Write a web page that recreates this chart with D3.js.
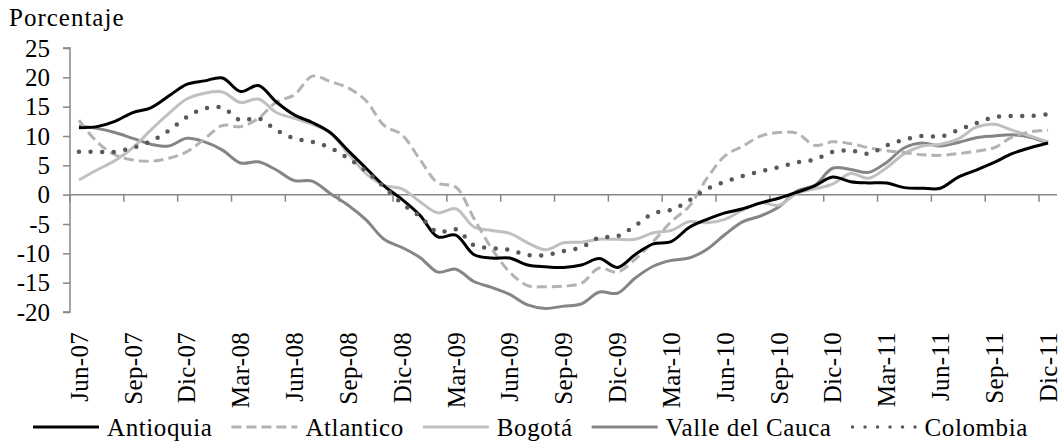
<!DOCTYPE html>
<html>
<head>
<meta charset="utf-8">
<title>Porcentaje</title>
<script src="https://d3js.org/d3.v7.min.js"></script>
<style>
  body { margin: 0; background: #fff; }
  svg text { font-family: "Liberation Serif", "Times New Roman", serif; fill: #000; }
</style>
</head>
<body>
<svg id="chart" width="1064" height="444"></svg>
<script>
// data (monthly, Jun-07 .. Dic-11)
var months = ["Jun-07","Jul-07","Ago-07","Sep-07","Oct-07","Nov-07","Dic-07",
  "Ene-08","Feb-08","Mar-08","Abr-08","May-08","Jun-08","Jul-08","Ago-08","Sep-08","Oct-08","Nov-08","Dic-08",
  "Ene-09","Feb-09","Mar-09","Abr-09","May-09","Jun-09","Jul-09","Ago-09","Sep-09","Oct-09","Nov-09","Dic-09",
  "Ene-10","Feb-10","Mar-10","Abr-10","May-10","Jun-10","Jul-10","Ago-10","Sep-10","Oct-10","Nov-10","Dic-10",
  "Ene-11","Feb-11","Mar-11","Abr-11","May-11","Jun-11","Jul-11","Ago-11","Sep-11","Oct-11","Nov-11","Dic-11"];

var tickLabels = ["Jun-07","Sep-07","Dic-07","Mar-08","Jun-08","Sep-08","Dic-08","Mar-09","Jun-09",
  "Sep-09","Dic-09","Mar-10","Jun-10","Sep-10","Dic-10","Mar-11","Jun-11","Sep-11","Dic-11"];

var yTicks = [25, 20, 15, 10, 5, 0, -5, -10, -15, -20];

var antioquia = [11.4,11.6,12.5,14.0,14.8,16.8,18.8,19.4,19.9,17.6,18.6,15.8,13.6,12.3,10.6,7.5,4.5,1.5,-0.8,
  -3.5,-7.2,-6.9,-10.2,-10.8,-10.8,-12.0,-12.3,-12.4,-12.0,-10.9,-12.4,
  -10.2,-8.4,-8.0,-5.6,-4.2,-3.1,-2.4,-1.4,-0.6,0.4,1.5,3.0,
  2.2,2.0,2.0,1.2,1.1,1.1,3.0,4.2,5.5,7.0,8.0,8.8];

var atlantico = [12.7,9.0,6.8,5.9,5.7,6.2,7.3,9.5,11.8,11.6,13.0,15.8,17.0,20.2,19.3,18.2,16.0,11.8,10.2,
  6.0,2.0,1.3,-4.0,-9.2,-13.2,-15.5,-15.7,-15.6,-15.1,-12.5,-13.2,
  -11.0,-8.0,-4.6,-2.0,2.8,6.6,8.3,10.0,10.6,10.5,8.4,9.0,
  8.7,8.0,7.5,7.2,6.8,6.7,7.0,7.4,8.0,9.8,10.7,11.0];

var bogota = [2.5,4.2,5.8,8.0,11.0,13.8,16.3,17.3,17.5,15.7,16.3,14.0,13.0,12.0,10.5,7.0,3.6,1.6,1.0,
  -1.2,-3.1,-2.4,-5.5,-6.1,-6.6,-8.2,-9.4,-8.2,-8.1,-7.6,-7.6,
  -7.6,-6.5,-6.1,-4.6,-4.8,-4.2,-2.6,-1.4,-1.8,0.2,1.0,1.8,
  3.6,2.8,4.6,7.0,8.3,8.6,9.5,11.5,12.0,11.0,10.0,9.0];

var valle = [11.7,11.3,10.6,9.6,8.6,8.3,9.6,9.0,7.6,5.4,5.6,4.2,2.4,2.3,0.2,-1.8,-4.3,-7.6,-9.0,
  -10.7,-13.2,-12.7,-14.8,-15.8,-17.0,-18.8,-19.4,-19.0,-18.6,-16.6,-16.8,
  -14.2,-12.2,-11.2,-10.8,-9.3,-6.8,-4.6,-3.6,-2.1,0.6,1.6,4.5,
  4.3,3.8,5.5,8.0,8.8,8.3,8.9,9.7,10.0,10.2,9.8,8.8];

var colombia = [7.3,7.3,7.3,8.0,9.1,10.9,13.2,14.7,14.8,12.7,13.0,11.0,9.6,9.0,8.0,6.2,4.0,1.3,-1.5,
  -3.7,-6.4,-5.9,-8.6,-9.1,-9.4,-10.3,-10.3,-9.6,-9.0,-7.3,-7.1,
  -5.3,-3.2,-2.6,-1.0,1.0,2.2,3.2,4.0,4.7,5.5,6.0,7.3,
  7.5,7.0,8.4,9.4,10.0,9.9,11.0,12.2,13.2,13.4,13.4,13.7];

var seriesNames = ["Antioquia", "Atlantico", "Bogotá", "Valle del Cauca", "Colombia"];
var seriesValues = [antioquia, atlantico, bogota, valle, colombia];

// styles
var styles = [
  {color: "#000000", width: 3, dash: null, cap: "butt"},
  {color: "#b3b3b3", width: 3, dash: "10 5", cap: "butt"},
  {color: "#c0c0c0", width: 3, dash: null, cap: "butt"},
  {color: "#858585", width: 3, dash: null, cap: "butt"},
  {color: "#595959", width: 4.5, dash: "0 11.6", cap: "round"}
];

var svg = d3.select("#chart");
var axisColor = "#868686";
var fontSize = 25;

var plot = {left: 70, right: 1057, top: 48, bottom: 312};

var x = d3.scaleBand()
  .domain(d3.range(months.length))
  .range([plot.left, plot.right])
  .paddingInner(0).paddingOuter(0);

var y = d3.scaleLinear()
  .domain([-20, 25])
  .range([plot.bottom, plot.top]);

function cx(i) { return x(i) + x.bandwidth() / 2; }

// y axis
var yAxis = svg.append("g")
  .attr("transform", "translate(" + plot.left + ",0)")
  .call(d3.axisLeft(y).tickValues(yTicks).tickSize(7).tickPadding(13).tickFormat(d3.format("d")));
yAxis.select(".domain").attr("stroke", axisColor).attr("stroke-width", 1.5)
  .attr("d", "M-7," + y(25) + "H0V" + y(-20) + "H-7");
yAxis.selectAll(".tick line").attr("stroke", axisColor).attr("stroke-width", 1.5);
yAxis.selectAll(".tick text")
  .style("font-family", "'Liberation Serif', 'Times New Roman', serif")
  .style("font-size", fontSize + "px")
  .attr("fill", "#000")
  .text(function (d) { return d < 0 ? "-" + Math.abs(d) : d; });

// x axis along zero line: ticks at category boundaries every 3 months
var boundaries = d3.range(0, months.length, 3);
var xAxisG = svg.append("g").attr("transform", "translate(0," + y(0) + ")");
xAxisG.append("line")
  .attr("x1", plot.left).attr("x2", plot.right)
  .attr("y1", 0).attr("y2", 0)
  .attr("stroke", axisColor).attr("stroke-width", 1.5);
xAxisG.selectAll("line.tk")
  .data(boundaries)
  .enter().append("line")
  .attr("class", "tk")
  .attr("x1", function (d) { return x(d); })
  .attr("x2", function (d) { return x(d); })
  .attr("y1", 0).attr("y2", 7)
  .attr("stroke", axisColor).attr("stroke-width", 1.5);

// rotated month labels under the plot
svg.append("g").selectAll("text")
  .data(tickLabels)
  .enter().append("text")
  .attr("transform", function (d) {
    return "translate(" + cx(months.indexOf(d)) + ",332) rotate(-90)";
  })
  .attr("text-anchor", "end")
  .attr("dy", "0.35em")
  .style("font-size", fontSize + "px")
  .style("letter-spacing", "0.3px")
  .text(function (d) { return d; });

// y title
svg.append("text")
  .attr("x", 9).attr("y", 26)
  .style("font-size", fontSize + "px")
  .style("letter-spacing", "1px")
  .text("Porcentaje");

// lines
var line = d3.line()
  .x(function (d, i) { return cx(i); })
  .y(function (d) { return y(d); })
  .curve(d3.curveCatmullRom.alpha(0.5));

var drawOrder = [3, 2, 1, 0, 4];
drawOrder.forEach(function (k) {
  var s = styles[k];
  svg.append("path")
    .datum(seriesValues[k])
    .attr("d", line)
    .attr("fill", "none")
    .attr("stroke", s.color)
    .attr("stroke-width", s.width)
    .attr("stroke-dasharray", s.dash)
    .attr("stroke-linecap", s.cap)
    .attr("stroke-linejoin", "round");
});

// legend
var legend = svg.append("g");
var lx = 33, ly = 427;
seriesNames.forEach(function (name, k) {
  var s = styles[k];
  legend.append("line")
    .attr("x1", lx + (s.cap === "round" ? 2 : 0)).attr("x2", lx + 66)
    .attr("y1", ly).attr("y2", ly)
    .attr("stroke", s.color)
    .attr("stroke-width", k === 4 ? 3.5 : s.width)
    .attr("stroke-dasharray", k === 4 ? "0 12.5" : s.dash)
    .attr("stroke-linecap", s.cap);
  var t = legend.append("text")
    .attr("x", lx + 74).attr("y", ly)
    .attr("dy", "0.35em")
    .style("font-size", fontSize + "px")
    .style("letter-spacing", "0.6px")
    .text(name);
  lx = lx + 74 + t.node().getComputedTextLength() + 19;
});
</script>
</body>
</html>
